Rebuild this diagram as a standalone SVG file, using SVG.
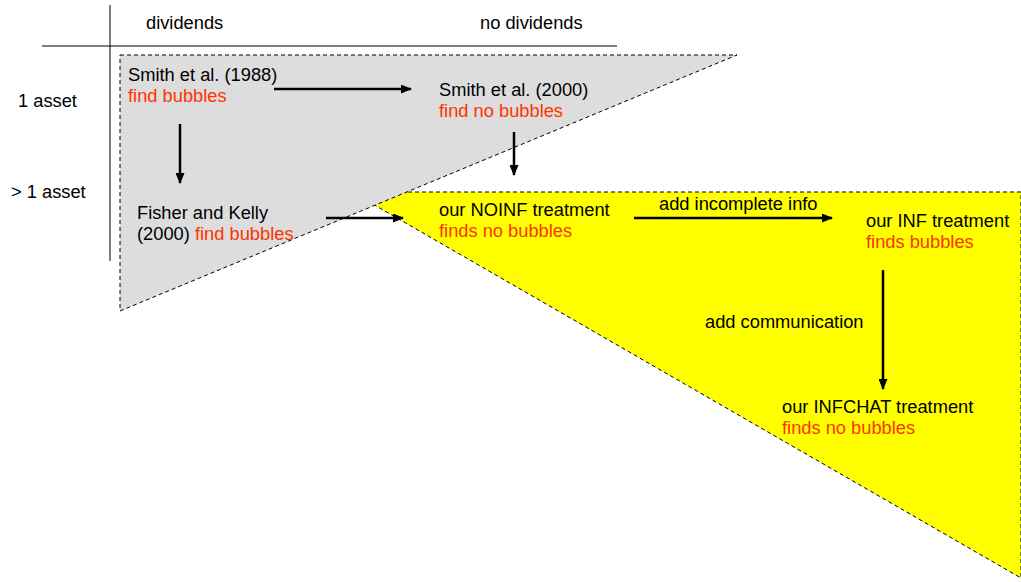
<svg xmlns="http://www.w3.org/2000/svg" width="1021" height="582" viewBox="0 0 1021 582">
<style>
text{font-family:"Liberation Sans",Arial,sans-serif;font-size:18.3px;fill:#000}
.r{fill:#ff3300}
.region{stroke:#000;stroke-width:1;stroke-dasharray:4 3}
.axis{stroke:#000;stroke-width:1}
.conn{stroke:#000;stroke-width:2.5;fill:none;marker-end:url(#ah)}
</style>
<defs>
<marker id="ah" viewBox="0 0 11 9" refX="10" refY="4.5" markerWidth="11" markerHeight="9" markerUnits="userSpaceOnUse" orient="auto">
<path d="M0,0 L11,4.5 L0,9 Z" fill="#000"/>
</marker>
</defs>
<rect width="1021" height="582" fill="#fff"/>
<g id="regions">
<polygon class="region" points="352,192 1021,192 1021,578" fill="#ffff00"/>
<polygon class="region" points="120,55 737,55 120,311" fill="#dddddd"/>
</g>
<g id="axes">
<line class="axis" x1="110" y1="5" x2="110" y2="261"/>
<line class="axis" x1="42" y1="46" x2="617" y2="46"/>
<text x="146" y="29">dividends</text>
<text x="480" y="29">no dividends</text>
<text x="18" y="107">1 asset</text>
<text x="11" y="198">&gt; 1 asset</text>
</g>
<g id="connectors">
<line class="conn" x1="274" y1="89" x2="411" y2="89"/>
<line class="conn" x1="180" y1="124" x2="180" y2="183"/>
<line class="conn" x1="514" y1="132" x2="514" y2="175"/>
<line class="conn" x1="326" y1="218" x2="403" y2="218"/>
<line class="conn" x1="634" y1="218" x2="832" y2="218"/>
<text x="659" y="210">add incomplete info</text>
<line class="conn" x1="883" y1="270" x2="883" y2="389"/>
<text x="705" y="328">add communication</text>
</g>
<g id="smith1988">
<text x="128" y="81">Smith et al. (1988)</text>
<text class="r" x="128" y="102">find bubbles</text>
</g>
<g id="smith2000">
<text x="439" y="96">Smith et al. (2000)</text>
<text class="r" x="439" y="117">find no bubbles</text>
</g>
<g id="fisherkelly">
<text x="137" y="219">Fisher and Kelly</text>
<text x="137" y="240">(2000) <tspan class="r">find bubbles</tspan></text>
</g>
<g id="noinf">
<text x="439" y="216">our NOINF treatment</text>
<text class="r" x="439" y="237">finds no bubbles</text>
</g>
<g id="inf">
<text x="866" y="227">our INF treatment</text>
<text class="r" x="866" y="248">finds bubbles</text>
</g>
<g id="infchat">
<text x="782" y="413">our INFCHAT treatment</text>
<text class="r" x="782" y="434">finds no bubbles</text>
</g>
</svg>
